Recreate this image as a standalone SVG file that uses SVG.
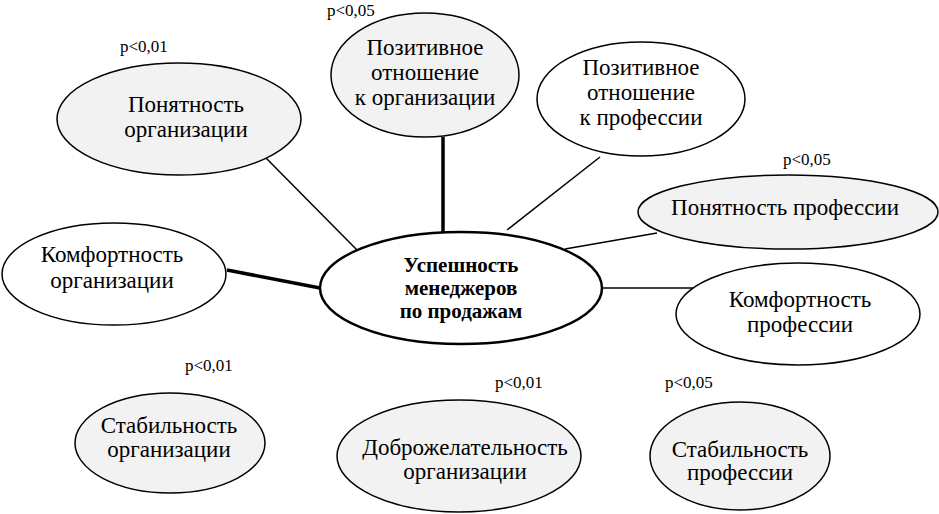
<svg xmlns="http://www.w3.org/2000/svg" width="939" height="514" viewBox="0 0 939 514">
<style>
.n{stroke:#000;stroke-width:1.5}
.g{fill:#f2f2f2}
.w{fill:#fff}
.c{stroke:#000;fill:none}
text{font-family:"Liberation Serif","Times New Roman",serif;fill:#000}
.t{font-size:23px;text-anchor:middle}
.p{font-size:17px}
.b{font-size:21px;font-weight:bold;text-anchor:middle}
</style>
<rect width="939" height="514" fill="#fff"/>
<g id="connectors">
<line class="c" x1="443" y1="137" x2="443" y2="232" stroke-width="3.5"/>
<line class="c" x1="265" y1="157" x2="357" y2="250" stroke-width="1.5"/>
<line class="c" x1="600" y1="157" x2="507" y2="230" stroke-width="1.5"/>
<line class="c" x1="565" y1="249" x2="657" y2="233" stroke-width="1.5"/>
<line class="c" x1="601" y1="288" x2="693" y2="288" stroke-width="1.5"/>
<line class="c" x1="227" y1="270" x2="320" y2="288" stroke-width="3.5"/>
</g>
<g id="center">
<ellipse class="w" cx="461" cy="288" rx="141" ry="56" stroke="#000" stroke-width="2.5"/>
<text class="b" x="461" y="272">Успешность</text>
<text class="b" x="461" y="295">менеджеров</text>
<text class="b" x="461" y="318">по продажам</text>
</g>
<g id="ponyatnost-org">
<ellipse class="n g" cx="179" cy="119" rx="122" ry="56"/>
<text class="t" x="186" y="112">Понятность</text>
<text class="t" x="186" y="137">организации</text>
<text class="p" x="120" y="52">p&lt;0,01</text>
</g>
<g id="poz-org">
<ellipse class="n g" cx="425" cy="75" rx="94" ry="62"/>
<text class="t" x="425" y="55">Позитивное</text>
<text class="t" x="425" y="80">отношение</text>
<text class="t" x="425" y="105">к организации</text>
<text class="p" x="327" y="16">p&lt;0,05</text>
</g>
<g id="poz-prof">
<ellipse class="n w" cx="641" cy="99" rx="104" ry="57"/>
<text class="t" x="641" y="75">Позитивное</text>
<text class="t" x="641" y="100">отношение</text>
<text class="t" x="641" y="125">к профессии</text>
</g>
<g id="ponyatnost-prof">
<ellipse class="n g" cx="788" cy="212" rx="150" ry="37"/>
<text class="t" x="785" y="215">Понятность профессии</text>
<text class="p" x="783" y="165">p&lt;0,05</text>
</g>
<g id="komfort-prof">
<ellipse class="n w" cx="798" cy="314" rx="122" ry="51"/>
<text class="t" x="800" y="307">Комфортность</text>
<text class="t" x="800" y="332">профессии</text>
</g>
<g id="komfort-org">
<ellipse class="n w" cx="114" cy="274" rx="112" ry="51"/>
<text class="t" x="112" y="262">Комфортность</text>
<text class="t" x="112" y="288">организации</text>
</g>
<g id="stab-org">
<ellipse class="n g" cx="170" cy="443" rx="95" ry="50"/>
<text class="t" x="169" y="433">Стабильность</text>
<text class="t" x="169" y="457">организации</text>
<text class="p" x="185" y="371">p&lt;0,01</text>
</g>
<g id="dobro-org">
<ellipse class="n g" cx="459" cy="456" rx="122" ry="56"/>
<text class="t" x="465" y="455">Доброжелательность</text>
<text class="t" x="465" y="479">организации</text>
<text class="p" x="495" y="388">p&lt;0,01</text>
</g>
<g id="stab-prof">
<ellipse class="n g" cx="740" cy="456" rx="90" ry="54"/>
<text class="t" x="740" y="457">Стабильность</text>
<text class="t" x="740" y="480">профессии</text>
<text class="p" x="665" y="388">p&lt;0,05</text>
</g>
</svg>
